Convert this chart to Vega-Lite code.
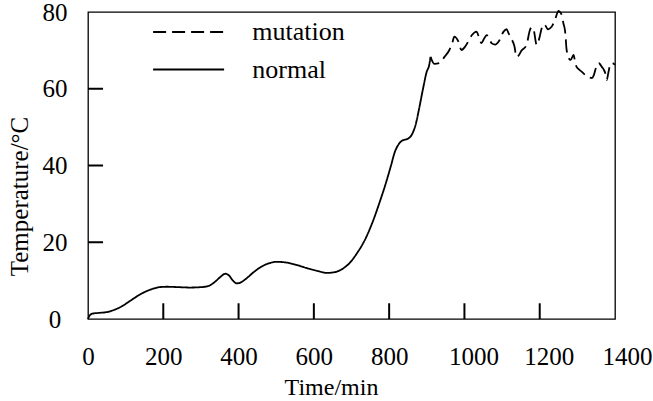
{
  "$schema": "https://vega.github.io/schema/vega-lite/v6.json",
  "width": 527,
  "height": 307,
  "autosize": {"type": "none"},
  "padding": {"left": 88, "top": 12, "right": 38, "bottom": 82},
  "background": "white",
  "config": {
    "view": {"stroke": "black", "strokeWidth": 1.3, "fill": null},
    "font": "Liberation Serif",
    "axis": {
      "domain": false,
      "grid": false,
      "ticks": false,
      "labelFont": "Liberation Serif",
      "labelFontSize": 25,
      "labelColor": "black",
      "titleFont": "Liberation Serif",
      "titleFontWeight": "normal",
      "titleColor": "black"
    }
  },
  "layer": [
    {
      "data": {
        "values": [
          {"t": 0, "T": 0, "s": "normal"},
          {"t": 5, "T": 1.0, "s": "normal"},
          {"t": 12, "T": 1.4, "s": "normal"},
          {"t": 30, "T": 1.6, "s": "normal"},
          {"t": 50, "T": 1.8, "s": "normal"},
          {"t": 70, "T": 2.4, "s": "normal"},
          {"t": 90, "T": 3.3, "s": "normal"},
          {"t": 110, "T": 4.6, "s": "normal"},
          {"t": 130, "T": 5.9, "s": "normal"},
          {"t": 150, "T": 7.0, "s": "normal"},
          {"t": 170, "T": 7.8, "s": "normal"},
          {"t": 190, "T": 8.3, "s": "normal"},
          {"t": 210, "T": 8.4, "s": "normal"},
          {"t": 240, "T": 8.3, "s": "normal"},
          {"t": 270, "T": 8.2, "s": "normal"},
          {"t": 300, "T": 8.3, "s": "normal"},
          {"t": 320, "T": 8.6, "s": "normal"},
          {"t": 335, "T": 9.5, "s": "normal"},
          {"t": 350, "T": 10.8, "s": "normal"},
          {"t": 365, "T": 11.8, "s": "normal"},
          {"t": 375, "T": 11.3, "s": "normal"},
          {"t": 385, "T": 10.0, "s": "normal"},
          {"t": 395, "T": 9.3, "s": "normal"},
          {"t": 405, "T": 9.5, "s": "normal"},
          {"t": 420, "T": 10.5, "s": "normal"},
          {"t": 440, "T": 12.2, "s": "normal"},
          {"t": 460, "T": 13.6, "s": "normal"},
          {"t": 480, "T": 14.5, "s": "normal"},
          {"t": 500, "T": 14.9, "s": "normal"},
          {"t": 520, "T": 14.8, "s": "normal"},
          {"t": 550, "T": 14.2, "s": "normal"},
          {"t": 580, "T": 13.3, "s": "normal"},
          {"t": 610, "T": 12.5, "s": "normal"},
          {"t": 635, "T": 12.0, "s": "normal"},
          {"t": 655, "T": 12.2, "s": "normal"},
          {"t": 675, "T": 13.0, "s": "normal"},
          {"t": 695, "T": 14.6, "s": "normal"},
          {"t": 715, "T": 17.2, "s": "normal"},
          {"t": 735, "T": 20.5, "s": "normal"},
          {"t": 755, "T": 25.0, "s": "normal"},
          {"t": 775, "T": 30.5, "s": "normal"},
          {"t": 790, "T": 35.0, "s": "normal"},
          {"t": 805, "T": 40.0, "s": "normal"},
          {"t": 815, "T": 43.5, "s": "normal"},
          {"t": 825, "T": 45.5, "s": "normal"},
          {"t": 835, "T": 46.5, "s": "normal"},
          {"t": 850, "T": 47.0, "s": "normal"},
          {"t": 860, "T": 48.0, "s": "normal"},
          {"t": 870, "T": 50.5, "s": "normal"},
          {"t": 880, "T": 55.0, "s": "normal"},
          {"t": 890, "T": 60.0, "s": "normal"},
          {"t": 900, "T": 64.5, "s": "normal"},
          {"t": 906, "T": 66.0, "s": "normal"},
          {"t": 910, "T": 68.3, "s": "normal"},
          {"t": 910, "T": 68.3, "s": "mutation"},
          {"t": 920, "T": 66.5, "s": "mutation"},
          {"t": 933, "T": 66.7, "s": "mutation"},
          {"t": 947, "T": 68.3, "s": "mutation"},
          {"t": 960, "T": 70.1, "s": "mutation"},
          {"t": 968, "T": 72.0, "s": "mutation"},
          {"t": 973, "T": 73.6, "s": "mutation"},
          {"t": 984, "T": 72.3, "s": "mutation"},
          {"t": 992, "T": 70.1, "s": "mutation"},
          {"t": 1002, "T": 71.0, "s": "mutation"},
          {"t": 1010, "T": 72.3, "s": "mutation"},
          {"t": 1020, "T": 74.0, "s": "mutation"},
          {"t": 1032, "T": 74.9, "s": "mutation"},
          {"t": 1040, "T": 73.0, "s": "mutation"},
          {"t": 1045, "T": 71.9, "s": "mutation"},
          {"t": 1052, "T": 73.0, "s": "mutation"},
          {"t": 1059, "T": 74.0, "s": "mutation"},
          {"t": 1066, "T": 73.0, "s": "mutation"},
          {"t": 1072, "T": 71.9, "s": "mutation"},
          {"t": 1082, "T": 71.5, "s": "mutation"},
          {"t": 1091, "T": 72.3, "s": "mutation"},
          {"t": 1104, "T": 74.9, "s": "mutation"},
          {"t": 1112, "T": 75.5, "s": "mutation"},
          {"t": 1117, "T": 74.5, "s": "mutation"},
          {"t": 1125, "T": 73.0, "s": "mutation"},
          {"t": 1133, "T": 71.0, "s": "mutation"},
          {"t": 1138, "T": 68.3, "s": "mutation"},
          {"t": 1145, "T": 68.8, "s": "mutation"},
          {"t": 1152, "T": 70.0, "s": "mutation"},
          {"t": 1158, "T": 70.5, "s": "mutation"},
          {"t": 1165, "T": 71.4, "s": "mutation"},
          {"t": 1174, "T": 75.3, "s": "mutation"},
          {"t": 1178, "T": 76.0, "s": "mutation"},
          {"t": 1183, "T": 75.7, "s": "mutation"},
          {"t": 1192, "T": 71.4, "s": "mutation"},
          {"t": 1197, "T": 72.5, "s": "mutation"},
          {"t": 1200, "T": 73.6, "s": "mutation"},
          {"t": 1205, "T": 75.7, "s": "mutation"},
          {"t": 1210, "T": 76.8, "s": "mutation"},
          {"t": 1214, "T": 76.6, "s": "mutation"},
          {"t": 1222, "T": 75.5, "s": "mutation"},
          {"t": 1228, "T": 75.8, "s": "mutation"},
          {"t": 1232, "T": 76.2, "s": "mutation"},
          {"t": 1242, "T": 78.4, "s": "mutation"},
          {"t": 1250, "T": 80.3, "s": "mutation"},
          {"t": 1254, "T": 80.0, "s": "mutation"},
          {"t": 1259, "T": 79.0, "s": "mutation"},
          {"t": 1263, "T": 77.0, "s": "mutation"},
          {"t": 1267, "T": 75.3, "s": "mutation"},
          {"t": 1269, "T": 73.2, "s": "mutation"},
          {"t": 1271, "T": 70.5, "s": "mutation"},
          {"t": 1274, "T": 69.0, "s": "mutation"},
          {"t": 1277, "T": 68.0, "s": "mutation"},
          {"t": 1282, "T": 67.5, "s": "mutation"},
          {"t": 1290, "T": 68.8, "s": "mutation"},
          {"t": 1294, "T": 67.0, "s": "mutation"},
          {"t": 1298, "T": 65.7, "s": "mutation"},
          {"t": 1305, "T": 65.0, "s": "mutation"},
          {"t": 1312, "T": 64.4, "s": "mutation"},
          {"t": 1325, "T": 63.3, "s": "mutation"},
          {"t": 1339, "T": 62.8, "s": "mutation"},
          {"t": 1344, "T": 63.6, "s": "mutation"},
          {"t": 1348, "T": 65.0, "s": "mutation"},
          {"t": 1352, "T": 66.2, "s": "mutation"},
          {"t": 1357, "T": 66.7, "s": "mutation"},
          {"t": 1361, "T": 66.3, "s": "mutation"},
          {"t": 1365, "T": 65.7, "s": "mutation"},
          {"t": 1370, "T": 65.0, "s": "mutation"},
          {"t": 1374, "T": 64.1, "s": "mutation"},
          {"t": 1378, "T": 62.3, "s": "mutation"},
          {"t": 1382, "T": 64.0, "s": "mutation"},
          {"t": 1386, "T": 65.8, "s": "mutation"},
          {"t": 1392, "T": 66.7, "s": "mutation"},
          {"t": 1400, "T": 66.2, "s": "mutation"}
        ]
      },
      "mark": {"type": "line", "color": "black", "strokeWidth": 1.8, "interpolate": "monotone", "clip": false},
      "encoding": {
        "x": {
          "field": "t", "type": "quantitative",
          "scale": {"domain": [0, 1400], "nice": false, "zero": false},
          "axis": {
            "orient": "bottom",
            "values": [0, 200, 400, 600, 800, 1000, 1200, 1400],
            "format": "d",
            "title": "Time/min",
            "titleFontSize": 24,
            "titleX": 243,
            "titleY": 75,
            "titleAlign": "center",
            "titleBaseline": "alphabetic",
            "labelPadding": 25,
            "labelOffset": {"condition": [{"test": "datum.value == 1400", "value": 12}, {"test": "datum.value >= 1000", "value": 9}], "value": 0},
            "labelFlush": false,
            "labelOverlap": false
          }
        },
        "y": {
          "field": "T", "type": "quantitative",
          "scale": {"domain": [0, 80], "nice": false},
          "axis": {
            "orient": "left",
            "values": [0, 20, 40, 60, 80],
            "format": "d",
            "title": "Temperature/°C",
            "titleFontSize": 25,
            "titleX": -61,
            "titleY": 184,
            "titleAngle": 270,
            "titleAlign": "center",
            "titleBaseline": "alphabetic",
            "labelAlign": "center",
            "labelPadding": 33.5,
            "labelFlush": false,
            "labelOverlap": false
          }
        },
        "strokeDash": {
          "field": "s", "type": "nominal",
          "scale": {"domain": ["mutation", "normal"], "range": [[13, 6], [1, 0]]},
          "legend": {
            "title": null,
            "orient": "none",
            "legendX": 87.6,
            "legendY": 7,
            "padding": 0,
            "symbolType": "M-3,0H3",
            "symbolSize": 560,
            "symbolStrokeWidth": 1.8,
            "symbolStrokeColor": "black",
            "symbolFillColor": "transparent",
            "labelFont": "Liberation Serif",
            "labelFontSize": 26,
            "labelColor": "black",
            "labelOffset": 50.7,
            "rowPadding": 11.5
          }
        }
      }
    },
    {
      "data": {"values": [{"v": 200}, {"v": 400}, {"v": 600}, {"v": 800}, {"v": 1000}, {"v": 1200}]},
      "mark": {"type": "rule", "color": "black", "strokeWidth": 2},
      "encoding": {
        "x": {"field": "v", "type": "quantitative"},
        "y": {"datum": 0},
        "y2": {"datum": 4.1}
      }
    },
    {
      "data": {"values": [{"w": 20}, {"w": 40}, {"w": 60}]},
      "mark": {"type": "rule", "color": "black", "strokeWidth": 2},
      "encoding": {
        "y": {"field": "w", "type": "quantitative"},
        "x": {"datum": 0},
        "x2": {"datum": 40}
      }
    }
  ]
}
